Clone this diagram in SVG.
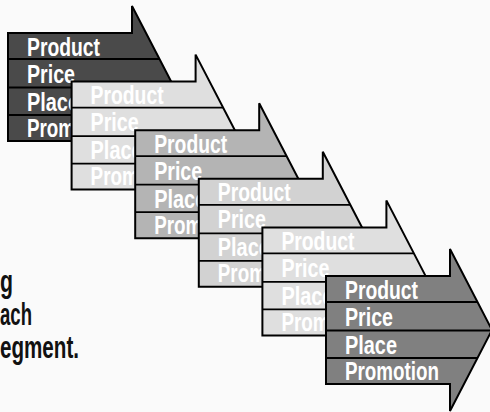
<svg xmlns="http://www.w3.org/2000/svg" width="490" height="412" viewBox="0 0 490 412">
<style>
.outline{fill:none;stroke:#000;stroke-width:2;stroke-linejoin:miter}
.div{stroke:#000;stroke-width:1.8}
.lbl{font-family:"Liberation Sans",Arial,sans-serif;font-weight:bold;font-size:25px;fill:#fff}
.side{font-family:"Liberation Sans",Arial,sans-serif;font-weight:bold;font-size:31px;fill:#111}
</style>
<defs>
<path id="shape" d="M0,0 H124 V-27 L166,54 L124,135 V108 H0 Z"/>
<g id="inner">
<line class="div" x1="0" y1="26" x2="151.5" y2="26"/>
<line class="div" x1="0" y1="54.5" x2="165.5" y2="54.5"/>
<line class="div" x1="0" y1="82" x2="151.5" y2="82"/>
<text class="lbl" x="19" y="22.5" textLength="73" lengthAdjust="spacingAndGlyphs">Product</text>
<text class="lbl" x="19" y="49.5" textLength="48" lengthAdjust="spacingAndGlyphs">Price</text>
<text class="lbl" x="19" y="77.5" textLength="52" lengthAdjust="spacingAndGlyphs">Place</text>
<text class="lbl" x="19" y="103.5" textLength="94" lengthAdjust="spacingAndGlyphs">Promotion</text>
<use href="#shape" class="outline"/>
</g>
</defs>
<rect width="490" height="412" fill="#fafafa"/>
<g id="side-text">
<text class="side" x="0" y="292" textLength="13" lengthAdjust="spacingAndGlyphs">g</text>
<text class="side" x="0" y="325" textLength="32" lengthAdjust="spacingAndGlyphs">ach</text>
<text class="side" x="0" y="357.5" textLength="79" lengthAdjust="spacingAndGlyphs">egment.</text>
</g>
<g id="arrow1" transform="translate(8,33)"><use href="#shape" fill="#4a4a4a"/><use href="#inner"/></g>
<g id="arrow2" transform="translate(71.6,81.6)"><use href="#shape" fill="#dfdfdf"/><use href="#inner"/></g>
<g id="arrow3" transform="translate(135.2,130.2)"><use href="#shape" fill="#b4b4b4"/><use href="#inner"/></g>
<g id="arrow4" transform="translate(198.8,178.8)"><use href="#shape" fill="#d2d2d2"/><use href="#inner"/></g>
<g id="arrow5" transform="translate(262.4,227.4)"><use href="#shape" fill="#dfdfdf"/><use href="#inner"/></g>
<g id="arrow6" transform="translate(326,276)"><use href="#shape" fill="#808080"/><use href="#inner"/></g>
</svg>
